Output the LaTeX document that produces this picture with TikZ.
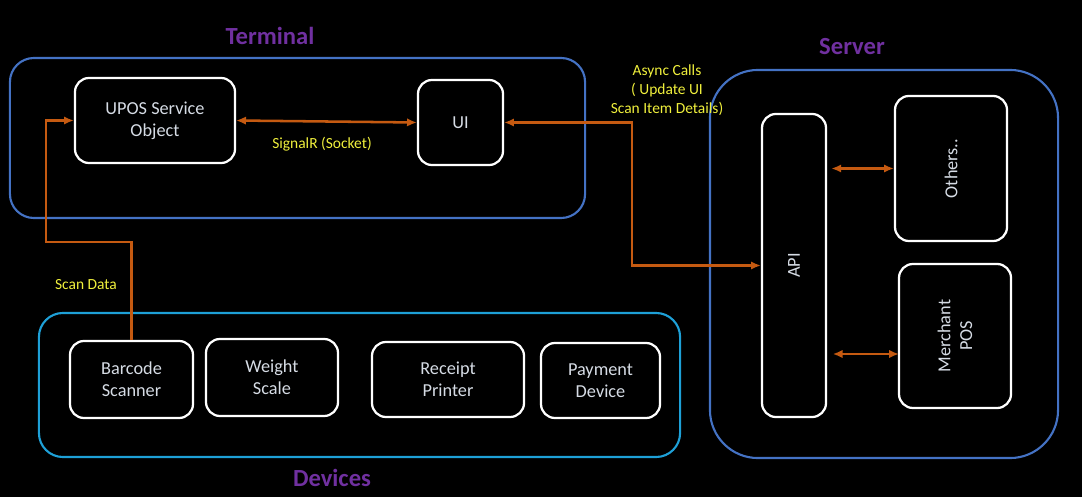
\documentclass[tikz,border=0pt]{standalone}
\usepackage{fontspec}
\setmainfont{Carlito}
\usepackage{xcolor}
\usepackage{tikz}
\usetikzlibrary{arrows.meta}
\definecolor{tblue}{RGB}{68,114,196}
\definecolor{dblue}{RGB}{30,160,215}
\definecolor{ttlc}{RGB}{112,48,160}
\definecolor{lblc}{RGB}{240,240,60}
\definecolor{arrc}{RGB}{197,90,17}
\definecolor{txtc}{RGB}{214,220,229}

\begin{document}
\begin{tikzpicture}[x=0.025cm,y=-0.025cm]
\tikzset{grp/.style={draw, line width=1.5pt, rounded corners=0.6cm, inner sep=0pt}, bx/.style={draw=white, line width=1.6pt, rounded corners=0.35cm, align=center, text=txtc, font=\fontsize{13}{15.5}\selectfont, inner sep=0pt}, ttl/.style={text=ttlc, font=\fontsize{17.5}{20}\selectfont\bfseries}, lbl/.style={text=lblc, align=center, font=\fontsize{11}{13.5}\selectfont}, arr/.style={draw=arrc, line width=1.8pt}, >={Latex[length=7pt,width=6pt]}};
\fill[black] (0,0) rectangle (1082,497);
\useasboundingbox (0,0) rectangle (1082,497);
\node [grp, draw=tblue, minimum width=14.375cm, minimum height=4cm] (term) at (297.5,138) {};
\node [grp, draw=tblue, rounded corners=1.2cm, minimum width=8.7cm, minimum height=9.7cm] (serv) at (884,264) {};
\node [grp, draw=dblue, minimum width=16.025cm, minimum height=3.6cm] (dev) at (359.5,385) {};
\node [ttl] at (270,36) {Terminal};
\node [ttl] at (852,47) {Server};
\node [ttl] at (332,478) {Devices};
\node [bx, minimum width=4cm, minimum height=2.125cm] (upos) at (155,120.5) {UPOS Service\\Object};
\node [bx, minimum width=2.125cm, minimum height=2.125cm] (ui) at (460.5,122.5) {UI};
\node [bx, rotate=90, minimum width=7.575cm, minimum height=1.6cm] (api) at (794,265.5) {API};
\node [bx, rotate=90, minimum width=3.625cm, minimum height=2.8cm] (oth) at (951,168.5) {Others..};
\node [bx, rotate=90, minimum width=3.6cm, minimum height=2.8cm] (mpos) at (955,336) {Merchant\\POS};
\node [bx, minimum width=3.075cm, minimum height=1.925cm] (bc) at (131.5,379.5) {Barcode\\Scanner};
\node [bx, minimum width=3.3cm, minimum height=1.925cm] (ws) at (272,377.5) {Weight\\Scale};
\node [bx, minimum width=3.8cm, minimum height=1.875cm] (rp) at (448,379.5) {Receipt\\Printer};
\node [bx, minimum width=2.975cm, minimum height=1.875cm] (pd) at (600.5,380.5) {Payment\\Device};
\node [lbl] (sig) at (322,144) {SignalR (Socket)};
\node [lbl] (asl) at (667,90) {Async Calls\\( Update UI\\Scan Item Details)};
\node [lbl] (sdl) at (86,285) {Scan Data};
\coordinate (async) at (632,265.5);
\coordinate (bend) at (46,242);
\coordinate (mp) at (899,354);
\draw [arr, <->] (upos.east) -- (ui.west);
\draw [arr, <->] (ui.east) -| (async) -- (api.north);
\draw [arr, ->] (bc.north) |- (bend) |- (upos.west);
\draw [arr, <->] ([xshift=3pt]api.south |- oth.north) -- (oth.north);
\draw [arr, <->] ([xshift=4pt]api.south |- mp) -- (mp);
\end{tikzpicture}
\end{document}
